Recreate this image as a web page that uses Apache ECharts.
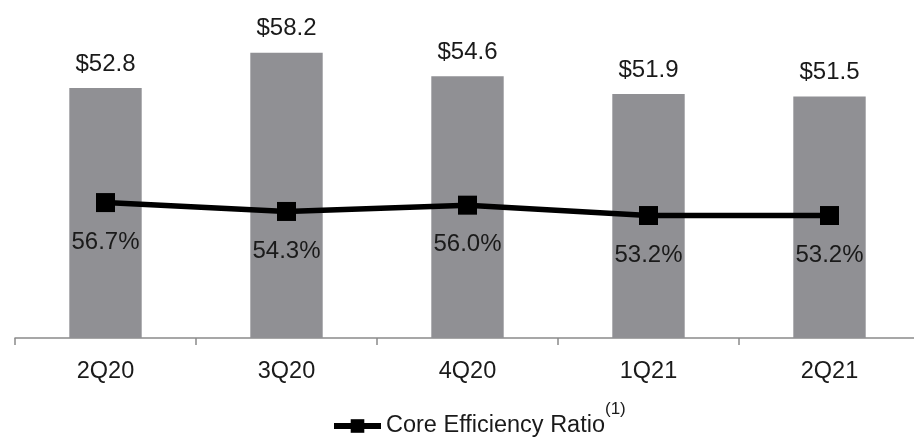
<!DOCTYPE html>
<html>
<head>
<meta charset="utf-8">
<script src="https://cdn.jsdelivr.net/npm/echarts@6/dist/echarts.min.js"></script>
<style>
  html, body { margin: 0; padding: 0; background: #fff; }
  #chart { width: 914px; height: 439px; }
</style>
</head>
<body>
<div id="chart"></div>
<script>
// Quarterly core expense ($ millions) and core efficiency ratio (%)
const quarters = ['2Q20', '3Q20', '4Q20', '1Q21', '2Q21'];
const coreExpense = [52.8, 58.2, 54.6, 51.9, 51.5];
const efficiencyRatio = [56.7, 54.3, 56.0, 53.2, 53.2];
const lineName = 'Core Efficiency Ratio';
const footnoteMark = '(1)';

const FONT = '"Liberation Sans", Arial, sans-serif';
const TEXT = '#1a1a1a';

const chart = echarts.init(document.getElementById('chart'), null, { renderer: 'canvas' });

chart.setOption({
  animation: false,
  backgroundColor: '#ffffff',
  textStyle: { fontFamily: FONT },
  // the category axis runs past the right edge of the canvas
  grid: { left: 15, width: 905, top: 0, height: 338, containLabel: false, outerBoundsMode: 'none' },
  legend: {
    data: [lineName],
    left: 331,
    top: 414,
    padding: 0,
    itemWidth: 47,
    itemHeight: 17,
    itemGap: 0,
    lineStyle: { color: '#000', width: 6 },
    itemStyle: { color: '#000' },
    textStyle: { fontFamily: FONT, fontSize: 23.5, color: TEXT }
  },
  graphic: [
    {
      type: 'text',
      left: 605,
      top: 401,
      style: { text: footnoteMark, fontFamily: FONT, fontSize: 17, fill: TEXT }
    }
  ],
  xAxis: {
    type: 'category',
    data: quarters,
    boundaryGap: true,
    axisLine: { show: true, lineStyle: { color: '#8a8a8a', width: 1.5 } },
    axisTick: { show: true, alignWithLabel: false, length: 7, lineStyle: { color: '#8a8a8a', width: 1.5 } },
    axisLabel: { margin: 22, fontFamily: FONT, fontSize: 23.5, color: TEXT }
  },
  yAxis: [
    { type: 'value', min: 14.5, max: 66.3, show: false, splitLine: { show: false } },
    { type: 'value', min: 20.1, max: 111.45, show: false, splitLine: { show: false } }
  ],
  series: [
    {
      name: 'Core Expense',
      type: 'bar',
      yAxisIndex: 0,
      data: coreExpense,
      barWidth: '40%',
      itemStyle: { color: '#909094' },
      label: {
        show: true,
        position: 'top',
        distance: 12,
        fontFamily: FONT,
        fontSize: 24,
        color: TEXT,
        formatter: function (p) { return '$' + p.value.toFixed(1); }
      }
    },
    {
      name: lineName,
      type: 'line',
      yAxisIndex: 1,
      data: efficiencyRatio,
      symbol: 'rect',
      symbolSize: 19,
      lineStyle: { color: '#000', width: 5.5 },
      itemStyle: { color: '#000' },
      label: {
        show: true,
        position: 'bottom',
        distance: 18,
        fontFamily: FONT,
        fontSize: 24,
        color: TEXT,
        formatter: function (p) { return p.value.toFixed(1) + '%'; }
      }
    }
  ]
});
</script>
</body>
</html>
